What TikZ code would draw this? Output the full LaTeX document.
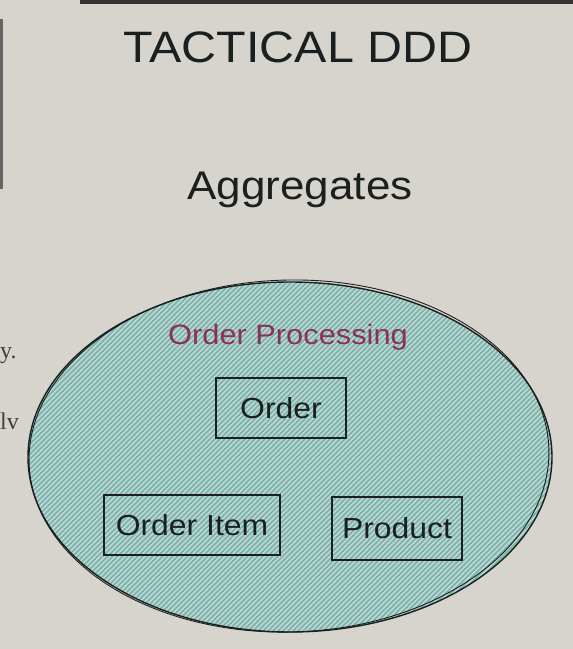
\documentclass[tikz,border=0pt]{standalone}
\usepackage{fontspec}
\setmainfont[FakeStretch=1.1]{Liberation Sans}
\newfontfamily\strayserif{Liberation Serif}
\definecolor{bgpaper}{HTML}{D7D4CD}
\definecolor{hatchbase}{HTML}{C6D6D2}
\definecolor{hatchline}{HTML}{72B4AC}
\definecolor{maroon}{HTML}{8E2F5A}
\definecolor{ink}{HTML}{1A1F1F}
\tikzset{
  hatch/.style={draw=hatchline, line width=1.5pt},
  entitybox/.style={draw=ink, line width=1.5pt, rectangle, inner sep=0pt,
    font=\fontsize{29}{32}\selectfont, text=ink},
  titletext/.style={font=\fontsize{44}{48}\selectfont, text=ink},
  subtitletext/.style={font=\fontsize{40}{44}\selectfont, text=ink},
  contexttext/.style={font=\fontsize{28}{32}\selectfont, text=maroon},
  straytext/.style={font=\strayserif\fontsize{24}{26}\selectfont, text=black!75, inner sep=0pt}
}
\begin{document}
\begin{tikzpicture}[x=1pt,y=1pt]
  \useasboundingbox (0,0) rectangle (573,649);
  \fill[bgpaper] (0,0) rectangle (573,649);
  % screen edge artifacts
  \fill[black!80] (80,645) rectangle (573,649);
  \fill[black!60] (0,460) rectangle (3,630);
  % stray text from the screen behind
  \node[straytext, anchor=west] (stray1) at (0,293) {y.};
  \node[straytext, anchor=west] (stray2) at (0,228) {lv};
  % titles
  \node[titletext] (title) at (298,602) {TACTICAL DDD};
  \node[subtitletext] (agg) at (300,459) {Aggregates};
  % ellipse with hatching
  \begin{scope}
    \clip (290,192) ellipse [x radius=262, y radius=175];
    \fill[hatchbase] (20,10) rectangle (560,375);
    \foreach \c in {-380,-375,...,570} {
      \draw[hatch] (\c,0) -- ++(420,420);
    }
  \end{scope}
  \draw[ink, line width=1.4pt] (290,192) ellipse [x radius=262, y radius=175];
  \draw[ink, line width=0.9pt, rotate around={1.5:(290,192)}] (289,193) ellipse [x radius=260, y radius=176];
  \node[contexttext] (ctx) at (288,312) {Order Processing};
  % aggregate members
  \node[entitybox, minimum width=130pt, minimum height=60pt] (order) at (281,241) {Order};
  \node[entitybox, minimum width=176pt, minimum height=60pt] (orderitem) at (192,124) {Order Item};
  \node[entitybox, minimum width=130pt, minimum height=63pt] (product) at (397,120.5) {Product};
\end{tikzpicture}
\end{document}
